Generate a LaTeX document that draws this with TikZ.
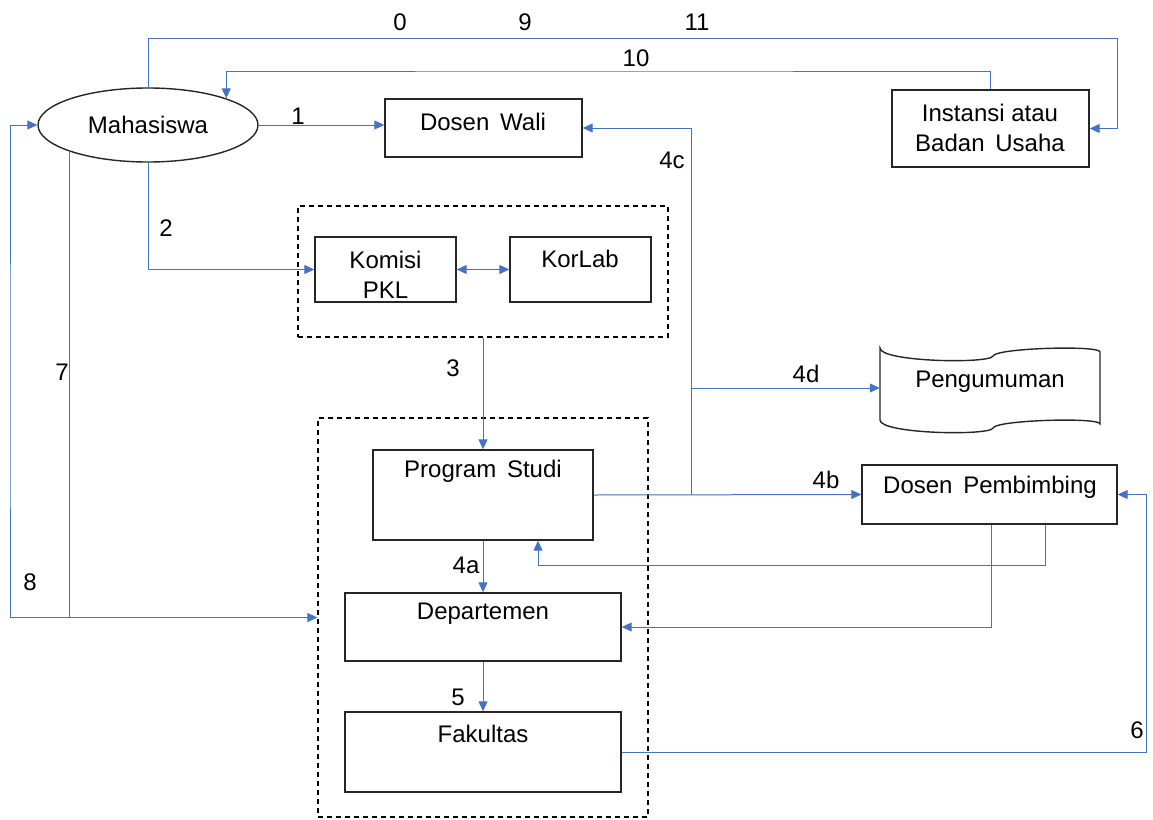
\documentclass[tikz,border=0pt]{standalone}
\usepackage{fontspec}
\setmainfont{Liberation Sans}
\usetikzlibrary{arrows.meta,shapes.geometric,fit}
\definecolor{cblue}{HTML}{4472C4}
\newcommand{\wsp}{\hspace{0.45em}}
\begin{document}
\begin{tikzpicture}[x=1pt,y=-1pt,
  font=\fontsize{24}{30}\selectfont,
  conn/.style={draw=cblue, line width=1pt},
  arr/.style={conn,-{Triangle[length=10pt,width=9pt]}},
  darr/.style={conn,{Triangle[length=10pt,width=9pt]}-{Triangle[length=10pt,width=9pt]}},
  box/.style={draw=black!85, line width=1.4pt, inner sep=0pt, fit={#1}},
  grp/.style={draw=black, dash pattern=on 5pt off 4pt, line width=1.2pt, inner sep=0pt, fit={#1}},
  txt/.style={inner sep=0pt, align=center},
  lbl/.style={inner sep=0pt}]
\useasboundingbox (0,0) rectangle (1153,819);

% nodes
\node[draw=black!85, line width=1.4pt, ellipse, minimum width=220pt, minimum height=74pt, inner sep=0pt] (mhs) at (148,125) {Mahasiswa};
\node[box={(385,99) (582,157)}] (dw) {};
\node[txt] (dwt) at (483,122) {Dosen\wsp Wali};
\node[box={(892,90) (1089,167)}] (inst) {};
\node[txt] (instt) at (990,128) {Instansi atau\\Badan\wsp Usaha};

\node[grp={(298,206) (668,337)}] (db1) {};
\node[box={(315,237) (456,302)}] (kp) {};
\node[txt] (kpt) at (385.5,275) {Komisi\\PKL};
\node[box={(510,237) (651,302)}] (kl) {};
\node[txt] (klt) at (580,259) {KorLab};

\node[grp={(318,418) (648,817)}] (db2) {};
\node[box={(373,450) (593,540)}] (ps) {};
\node[txt] (pst) at (483,471) {Program\wsp Studi};
\node[box={(345,593) (621,661)}] (dep) {};
\node[txt] (dept) at (483,614) {Departemen};
\node[box={(345,712) (621,792)}] (fak) {};
\node[txt] (fakt) at (483,734) {Fakultas};

\node[box={(862,465) (1117,524)}] (dp) {};
\node[txt] (dpt) at (990,487) {Dosen\wsp Pembimbing};

\node[inner sep=0pt, fit={(880,348) (1100,428)}] (peng) {};
\draw[black!85, line width=1.4pt]
  (880,348) .. controls (880,362) and (990,364) .. (993,356)
  .. controls (996,348) and (1100,345) .. (1100,352)
  -- (1100,424)
  .. controls (1100,417) and (996,420) .. (993,428)
  .. controls (990,436) and (880,434) .. (880,420) -- cycle;
\node[txt] (pengt) at (990,382) {Pengumuman};

% helper coordinates
\coordinate (c11) at (1117,38);
\coordinate (c10) at (600,71);
\coordinate (j) at (691,0 |- ps.east);
\coordinate (k1) at (1045,565);
\coordinate (k1b) at (538,565);
\coordinate (k2) at (991,628);
\coordinate (c6) at (1146,600);
\coordinate (c8) at (10,400);

% connectors
\draw[arr] (mhs.north) |- (c11) |- (inst.east);
\draw[arr] (inst.north) |- (c10) -| (mhs.north east);
\draw[arr] (mhs.east) -- (mhs.east -| dw.west);
\draw[arr] (mhs.south) |- (kp.west);
\draw[darr] (kp.east) -- (kl.west);
\draw[arr] (db1.south) -- (ps.north);
\draw[arr] (ps.south) -- (dep.north);
\draw[arr] (dep.south) -- (fak.north);
\draw[arr] (ps.east) -- (dp.west);
\draw[arr] (j) |- (dw.east);
\draw[arr] (j |- peng.west) -- (peng.west);
\draw[arr] (k1 |- dp.south) |- (k1b) -- (k1b |- ps.south);
\draw[arr] (k2 |- dp.south) |- (dep.east);
\draw[arr] (fak.east) -| (c6) |- (dp.east);
\draw[arr] (mhs.south west) |- (db2.west);
\draw[arr] (mhs.south west |- db2.west) -| (c8) |- (mhs.west);

% labels
\node[lbl] (l0) at (400,22) {0};
\node[lbl] (l9) at (525,22) {9};
\node[lbl] (l11) at (697,22) {11};
\node[lbl] (l10) at (636,58) {10};
\node[lbl] (l1) at (298,116) {1};
\node[lbl] (l2) at (166,228) {2};
\node[lbl] (l3) at (453,368) {3};
\node[lbl] (l4c) at (672,160) {4c};
\node[lbl] (l4d) at (806,374) {4d};
\node[lbl] (l4b) at (826,480) {4b};
\node[lbl] (l4a) at (466,565) {4a};
\node[lbl] (l5) at (458,697) {5};
\node[lbl] (l6) at (1137,730) {6};
\node[lbl] (l7) at (62,372) {7};
\node[lbl] (l8) at (30,582) {8};
\end{tikzpicture}
\end{document}
